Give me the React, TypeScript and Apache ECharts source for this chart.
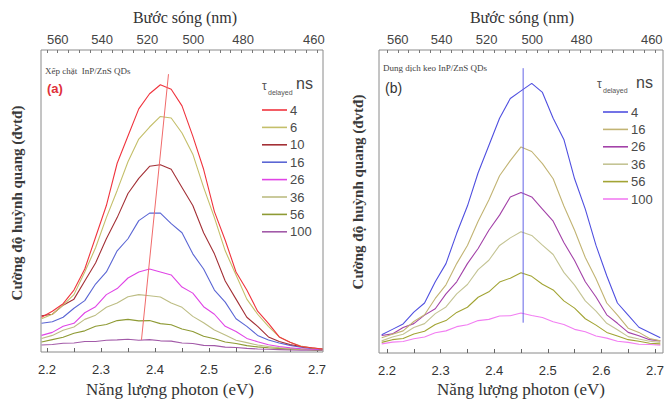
import React, { useEffect, useRef } from "react";
import * as echarts from "echarts";

// Photon energy grid (eV)
const energy = [2.19, 2.21, 2.23, 2.25, 2.27, 2.29, 2.31, 2.33, 2.35, 2.37, 2.39, 2.41, 2.43, 2.45, 2.47, 2.49, 2.51, 2.53, 2.55, 2.57, 2.59, 2.61, 2.63, 2.65, 2.67, 2.69, 2.71];

// Panel (a): close-packed InP/ZnS QDs
const delaysA = ["4", "6", "10", "16", "26", "36", "56", "100"];
const a4 = [11.5, 13.5, 16, 20.5, 27.5, 38, 48.5, 62.5, 71.5, 80.5, 85.5, 88.5, 87, 81.5, 71.5, 60.5, 46.5, 37, 26.5, 20.5, 13.5, 9.5, 5, 3.2, 1.8, 1.4, 1];
const a6 = [11, 12.5, 15.5, 19, 26.5, 34.5, 44.5, 53.5, 63, 70.5, 74.5, 78, 77.5, 72.5, 65.5, 54.5, 44.5, 33.5, 25.5, 17.5, 12.5, 8.5, 5, 3.2, 2, 1.3, 1];
const a10 = [12, 12.5, 15.5, 17.5, 23.5, 29.5, 37.5, 44.5, 52.5, 57.5, 61.5, 62, 60.5, 54.5, 48.5, 39.5, 32.5, 23.5, 17.5, 11.5, 8.5, 5, 3.5, 2.5, 1.8, 1.3, 1];
const a16 = [9.5, 10, 11.5, 14.5, 17, 22.5, 26.5, 33.5, 37.5, 43.5, 46, 46, 42.5, 39.5, 32.5, 27.5, 20.5, 16.5, 11, 8.5, 5.5, 4, 3, 2.2, 1.6, 1.2, 1];
const a26 = [5.5, 6.5, 8.5, 9.5, 13, 15, 19, 21, 24.5, 26.5, 27.5, 26.5, 25.5, 21.5, 19.5, 15, 12.5, 8.5, 6.8, 4.5, 3.4, 2.4, 1.8, 1.4, 1.1, 0.9, 0.8];
const a36 = [4.5, 5.5, 7.2, 8.3, 10.8, 12.2, 14.8, 16.2, 18.3, 19, 18.6, 18.2, 16.2, 14.8, 11.8, 9.7, 7.3, 5.6, 3.9, 3.1, 2.3, 1.8, 1.4, 1.2, 1, 0.9, 0.8];
const a56 = [3.3, 4.1, 4.9, 6.2, 7, 8.5, 9.1, 10.4, 10.8, 10.3, 10.4, 9.4, 9, 7.6, 6.8, 5.2, 4.4, 3.3, 2.8, 2.1, 1.7, 1.4, 1.2, 1, 0.9, 0.8, 0.7];
const a100 = [2.3, 2.5, 2.9, 3, 3.5, 3.5, 3.9, 4, 4.2, 3.9, 4.1, 3.7, 3.6, 3, 2.8, 2.2, 2.1, 1.6, 1.5, 1.2, 1, 0.9, 0.8, 0.7, 0.6, 0.6, 0.5];
const valuesA = [a4, a6, a10, a16, a26, a36, a56, a100];
const colorsA = ["#f0343e", "#c4bf6a", "#a33036", "#5b66d4", "#e044e6", "#bdbd84", "#8e9a34", "#a25aa8"];
const peakLineA = [[2.425, 92], [2.375, 4]];

// Panel (b): colloidal InP/ZnS QDs
const delaysB = ["4", "16", "26", "36", "56", "100"];
const b4 = [6, 7.8, 9.6, 13.5, 16.5, 23.5, 29.5, 39.5, 48.5, 59.5, 68.5, 77.5, 84, 86.5, 89, 86, 77.5, 70.5, 57.5, 47.5, 35.5, 25.5, 16.5, 12.5, 8.5, 6.8, 5];
const b16 = [5, 6.2, 7.3, 10.4, 12.6, 18, 22.5, 29.5, 35.5, 43.5, 50.5, 58.5, 63.5, 68, 66.5, 62.5, 57.5, 48.5, 40.5, 31.5, 24.5, 16.5, 12.5, 8.2, 6.8, 4.8, 4];
const b26 = [5.8, 6.3, 8.4, 9.7, 12.5, 14.6, 19.5, 23.5, 29.5, 34.5, 40.5, 45.5, 51.5, 53, 51.5, 47.5, 43.5, 36.5, 30.5, 23.5, 18.5, 12.6, 9.8, 6.8, 5.7, 4.4, 4];
const b36 = [4, 5.3, 6.2, 8.4, 9.7, 13, 15.2, 19.5, 22.6, 27.5, 30.6, 35.5, 38, 40, 38.8, 35.6, 32.5, 26.6, 22.4, 17.2, 13.8, 9.8, 7.7, 5.4, 4.6, 3.9, 3.5];
const b56 = [3.5, 4.4, 4.8, 6.3, 7.2, 9.4, 10.7, 13.4, 15.1, 18.4, 20.2, 23.4, 24.7, 26.5, 25.3, 22.7, 20.8, 17.2, 14.8, 11.3, 9.2, 6.8, 5.6, 4.4, 3.9, 3.2, 3];
const b100 = [3, 3.6, 3.8, 4.7, 5.3, 6.7, 7.3, 8.7, 9.3, 10.7, 11.1, 12.2, 12.3, 13.2, 12.4, 11.7, 10.3, 9.4, 7.8, 7, 5.6, 4.9, 3.9, 3.5, 2.9, 2.8, 2.6];
const valuesB = [b4, b16, b26, b36, b56, b100];
const colorsB = ["#5050e0", "#c2b474", "#a342a8", "#c4c494", "#a2a434", "#f27ef2"];
const peakLineB = [[2.454, 94], [2.454, 10]];

// Axis ticks
const energyTicks = [2.2, 2.3, 2.4, 2.5, 2.6, 2.7];
const waveLabels = [560, 540, 520, 500, 480, 460];
const waveTickEnergy = [2.22, 2.302, 2.386, 2.471, 2.563, 2.694];

const SANS = "'Liberation Sans', Arial, sans-serif";
const SERIF = "'Liberation Serif', 'Times New Roman', serif";

function minorTicks(from: number, to: number, step: number) {
  const out: number[] = [];
  for (let v = from; v <= to + 1e-9; v += step) out.push(Math.round(v * 1000) / 1000);
  return out;
}

function bottomAxis(gridIndex: number, min: number, max: number) {
  return {
    type: "value",
    gridIndex,
    position: "bottom",
    min,
    max,
    axisLine: { show: false },
    splitLine: { show: false },
    axisTick: { show: true, inside: true, length: 4, customValues: minorTicks(2.2, 2.7, 0.05), lineStyle: { color: "#666" } },
    axisLabel: { customValues: energyTicks, margin: 11, fontSize: 13, color: "#333", fontFamily: SANS, formatter: (v: number) => v.toFixed(1) },
  };
}

function topAxis(gridIndex: number, min: number, max: number) {
  return {
    type: "value",
    gridIndex,
    position: "top",
    min,
    max,
    axisLine: { show: false },
    splitLine: { show: false },
    axisTick: { show: true, inside: true, length: 3, customValues: minorTicks(2.2, 2.7, 0.02), lineStyle: { color: "#777" } },
    axisLabel: {
      customValues: waveTickEnergy,
      margin: 4,
      fontSize: 13,
      color: "#444",
      fontFamily: SANS,
      formatter: (v: number) => {
        const i = waveTickEnergy.findIndex((e) => Math.abs(e - v) < 1e-6);
        return i >= 0 ? String(waveLabels[i]) : "";
      },
    },
  };
}

function yAxis(gridIndex: number) {
  return {
    type: "value",
    gridIndex,
    min: 0,
    max: 100,
    axisLine: { show: false },
    axisTick: { show: false },
    axisLabel: { show: false },
    splitLine: { show: false },
  };
}

function legend(names: string[], left: number, top: number) {
  return {
    data: names.map((n) => ({ name: n, icon: "rect" })),
    orient: "vertical",
    left,
    top,
    padding: 0,
    itemWidth: 25,
    itemHeight: 1.6,
    itemGap: 3.4,
    selectedMode: false,
    formatter: (n: string) => n.slice(1),
    textStyle: { fontSize: 13, lineHeight: 14, color: "#4a4a4a", fontFamily: SANS, padding: [0, 0, 0, -2] },
  };
}

function txt(text: string, x: number, y: number, font: string, fill: string, align = "left", extra: any = {}) {
  return {
    type: "text",
    x,
    y,
    ...extra,
    style: { text, font, fill, textAlign: align, textVerticalAlign: "middle" },
    silent: true,
  };
}

export default function App() {
  const ref = useRef<HTMLDivElement>(null);

  useEffect(() => {
    if (!ref.current) return;
    const chart = echarts.init(ref.current, undefined, { renderer: "svg" });

    const series: any[] = [];
    delaysA.forEach((d, k) => {
      series.push({
        name: "a" + d,
        type: "line",
        xAxisIndex: 0,
        yAxisIndex: 0,
        symbol: "none",
        lineStyle: { width: 1.1, color: colorsA[k] },
        itemStyle: { color: colorsA[k] },
        data: energy.map((e, i) => [e, valuesA[k][i]]),
        z: 10 - k,
      });
    });
    series.push({
      name: "peakA",
      type: "line",
      xAxisIndex: 0,
      yAxisIndex: 0,
      symbol: "none",
      lineStyle: { width: 1, color: "#f06a6a" },
      data: peakLineA,
      z: 20,
    });
    delaysB.forEach((d, k) => {
      series.push({
        name: "b" + d,
        type: "line",
        xAxisIndex: 2,
        yAxisIndex: 1,
        symbol: "none",
        lineStyle: { width: 1.1, color: colorsB[k] },
        itemStyle: { color: colorsB[k] },
        data: energy.map((e, i) => [e, valuesB[k][i]]),
        z: 10 - k,
      });
    });
    series.push({
      name: "peakB",
      type: "line",
      xAxisIndex: 2,
      yAxisIndex: 1,
      symbol: "none",
      lineStyle: { width: 1, color: "#6464e6" },
      data: peakLineB,
      z: 20,
    });

    chart.setOption({
      animation: false,
      backgroundColor: "#ffffff",
      grid: [
        { left: 41, top: 50, width: 282, height: 302, show: true, borderColor: "#8a8a8a", borderWidth: 1 },
        { left: 379, top: 50, width: 284, height: 303, show: true, borderColor: "#8a8a8a", borderWidth: 1 },
      ],
      xAxis: [bottomAxis(0, 2.189, 2.711), topAxis(0, 2.189, 2.711), bottomAxis(1, 2.185, 2.715), topAxis(1, 2.185, 2.715)],
      yAxis: [yAxis(0), yAxis(1)],
      legend: [
        legend(delaysA.map((d) => "a" + d), 262, 103),
        legend(delaysB.map((d) => "b" + d), 603, 105),
      ],
      series,
      graphic: [
        txt("Bước sóng (nm)", 185, 17, `16px ${SERIF}`, "#333", "center"),
        txt("Bước sóng (nm)", 522, 17, `16px ${SERIF}`, "#333", "center"),
        txt("Năng lượng photon (eV)", 170, 389, `17px ${SERIF}`, "#333", "center"),
        txt("Năng lượng photon (eV)", 521, 389, `17px ${SERIF}`, "#333", "center"),
        txt("Cường độ huỳnh quang (đvtđ)", 17, 203, `bold 15px ${SERIF}`, "#3a3a3a", "center", { rotation: Math.PI / 2 }),
        txt("Cường độ huỳnh quang (đvtđ)", 358, 192, `bold 15px ${SERIF}`, "#3a3a3a", "center", { rotation: Math.PI / 2 }),
        txt("Xếp chặt  InP/ZnS QDs", 45, 71, `9px ${SERIF}`, "#444"),
        txt("(a)", 47, 88, `bold 13px ${SANS}`, "#e0303a"),
        txt("τ", 262, 86, `12px ${SANS}`, "#555"),
        txt("delayed", 268, 92, `7px ${SANS}`, "#555"),
        txt("ns", 296, 83, `16px ${SANS}`, "#444"),
        txt("Dung dịch keo InP/ZnS QDs", 383, 68, `9px ${SERIF}`, "#444"),
        txt("(b)", 385, 88, `14px ${SANS}`, "#333"),
        txt("τ", 597, 84, `12px ${SANS}`, "#555"),
        txt("delayed", 603, 90, `7px ${SANS}`, "#555"),
        txt("ns", 636, 82, `16px ${SANS}`, "#444"),
      ],
    });

    return () => chart.dispose();
  }, []);

  return <div ref={ref} style={{ position: "fixed", left: 0, top: 0, width: 668, height: 401, background: "#fff" }} />;
}
